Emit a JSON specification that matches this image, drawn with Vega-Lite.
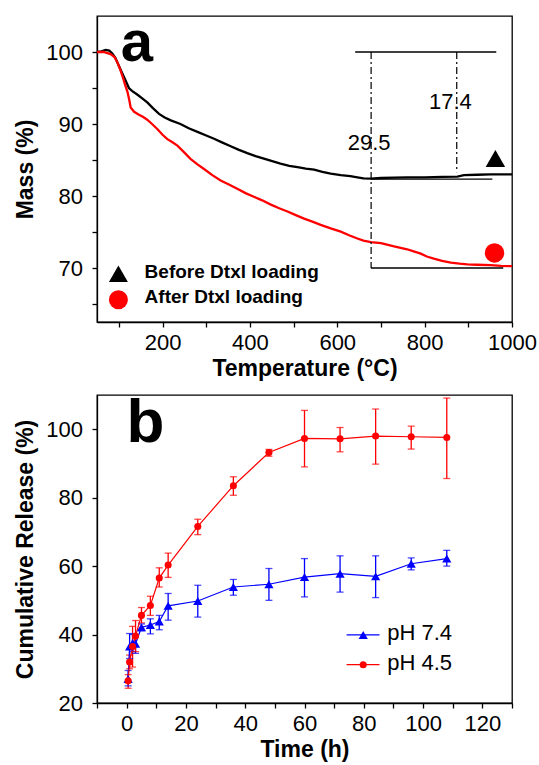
{
  "$schema": "https://vega.github.io/schema/vega-lite/v6.json",
  "background": "white",
  "padding": {"left": 14, "top": 13, "right": 5, "bottom": 3},
  "spacing": 9,
  "resolve": {"scale": {"color": "independent", "shape": "independent", "size": "independent"}},
  "config": {
    "font": "Liberation Sans",
    "view": {"stroke": "black", "strokeWidth": 1.3},
    "axis": {"domainColor": "black", "domainWidth": 1.3, "tickColor": "black", "tickWidth": 1.3, "tickSize": 5, "labelFont": "Liberation Sans", "labelFontSize": 22, "labelColor": "black", "titleFont": "Liberation Sans", "titleFontSize": 23, "titleFontWeight": "bold", "titleColor": "black", "grid": false, "labelFlush": false, "labelOverlap": false},
    "axisY": {"labelPadding": 9.5, "titlePadding": 8},
    "axisX": {"labelPadding": 5, "titlePadding": 4},
    "text": {"font": "Liberation Sans", "color": "black"}
  },
  "vconcat": [
    {
      "width": 415,
      "height": 306,
      "data": {"values": [
        {"sample": "Before Dtxl loading", "T": 50, "m": 100.0},
        {"sample": "Before Dtxl loading", "T": 60, "m": 100.1},
        {"sample": "Before Dtxl loading", "T": 70, "m": 100.3},
        {"sample": "Before Dtxl loading", "T": 78, "m": 100.2},
        {"sample": "Before Dtxl loading", "T": 85, "m": 99.8},
        {"sample": "Before Dtxl loading", "T": 92, "m": 99.2},
        {"sample": "Before Dtxl loading", "T": 100, "m": 98.1},
        {"sample": "Before Dtxl loading", "T": 106, "m": 97.3},
        {"sample": "Before Dtxl loading", "T": 112, "m": 96.5},
        {"sample": "Before Dtxl loading", "T": 118, "m": 95.7},
        {"sample": "Before Dtxl loading", "T": 123, "m": 95.0},
        {"sample": "Before Dtxl loading", "T": 130, "m": 94.6},
        {"sample": "Before Dtxl loading", "T": 142, "m": 94.1},
        {"sample": "Before Dtxl loading", "T": 155, "m": 93.5},
        {"sample": "Before Dtxl loading", "T": 165, "m": 93.0},
        {"sample": "Before Dtxl loading", "T": 178, "m": 92.2},
        {"sample": "Before Dtxl loading", "T": 192, "m": 91.4},
        {"sample": "Before Dtxl loading", "T": 205, "m": 90.9},
        {"sample": "Before Dtxl loading", "T": 219, "m": 90.5},
        {"sample": "Before Dtxl loading", "T": 241, "m": 90.0},
        {"sample": "Before Dtxl loading", "T": 260, "m": 89.4},
        {"sample": "Before Dtxl loading", "T": 280, "m": 88.9},
        {"sample": "Before Dtxl loading", "T": 300, "m": 88.4},
        {"sample": "Before Dtxl loading", "T": 318, "m": 87.95},
        {"sample": "Before Dtxl loading", "T": 336, "m": 87.45},
        {"sample": "Before Dtxl loading", "T": 356, "m": 86.9},
        {"sample": "Before Dtxl loading", "T": 375, "m": 86.4},
        {"sample": "Before Dtxl loading", "T": 394, "m": 85.95},
        {"sample": "Before Dtxl loading", "T": 413, "m": 85.55},
        {"sample": "Before Dtxl loading", "T": 432, "m": 85.2},
        {"sample": "Before Dtxl loading", "T": 451, "m": 84.85},
        {"sample": "Before Dtxl loading", "T": 470, "m": 84.5},
        {"sample": "Before Dtxl loading", "T": 490, "m": 84.2},
        {"sample": "Before Dtxl loading", "T": 509, "m": 84.0},
        {"sample": "Before Dtxl loading", "T": 528, "m": 83.8},
        {"sample": "Before Dtxl loading", "T": 547, "m": 83.65},
        {"sample": "Before Dtxl loading", "T": 566, "m": 83.35},
        {"sample": "Before Dtxl loading", "T": 585, "m": 83.1},
        {"sample": "Before Dtxl loading", "T": 608, "m": 82.9},
        {"sample": "Before Dtxl loading", "T": 630, "m": 82.75},
        {"sample": "Before Dtxl loading", "T": 646, "m": 82.6},
        {"sample": "Before Dtxl loading", "T": 660, "m": 82.45},
        {"sample": "Before Dtxl loading", "T": 677, "m": 82.4},
        {"sample": "Before Dtxl loading", "T": 700, "m": 82.5},
        {"sample": "Before Dtxl loading", "T": 730, "m": 82.55},
        {"sample": "Before Dtxl loading", "T": 760, "m": 82.6},
        {"sample": "Before Dtxl loading", "T": 800, "m": 82.6},
        {"sample": "Before Dtxl loading", "T": 840, "m": 82.65},
        {"sample": "Before Dtxl loading", "T": 875, "m": 82.7},
        {"sample": "Before Dtxl loading", "T": 890, "m": 82.9},
        {"sample": "Before Dtxl loading", "T": 920, "m": 82.95},
        {"sample": "Before Dtxl loading", "T": 951, "m": 83.0},
        {"sample": "Before Dtxl loading", "T": 1000, "m": 83.0},
        {"sample": "After Dtxl loading", "T": 50, "m": 100.0},
        {"sample": "After Dtxl loading", "T": 65, "m": 100.0},
        {"sample": "After Dtxl loading", "T": 81, "m": 99.7},
        {"sample": "After Dtxl loading", "T": 90, "m": 99.3},
        {"sample": "After Dtxl loading", "T": 97, "m": 98.5},
        {"sample": "After Dtxl loading", "T": 103, "m": 97.6},
        {"sample": "After Dtxl loading", "T": 108, "m": 96.7},
        {"sample": "After Dtxl loading", "T": 114, "m": 95.5},
        {"sample": "After Dtxl loading", "T": 120, "m": 94.4},
        {"sample": "After Dtxl loading", "T": 124, "m": 93.3},
        {"sample": "After Dtxl loading", "T": 127, "m": 92.3},
        {"sample": "After Dtxl loading", "T": 135, "m": 91.7},
        {"sample": "After Dtxl loading", "T": 146, "m": 91.3},
        {"sample": "After Dtxl loading", "T": 155, "m": 91.0},
        {"sample": "After Dtxl loading", "T": 165, "m": 90.6},
        {"sample": "After Dtxl loading", "T": 176, "m": 90.0},
        {"sample": "After Dtxl loading", "T": 188, "m": 89.3},
        {"sample": "After Dtxl loading", "T": 200, "m": 88.5},
        {"sample": "After Dtxl loading", "T": 211, "m": 87.9},
        {"sample": "After Dtxl loading", "T": 222, "m": 87.5},
        {"sample": "After Dtxl loading", "T": 234, "m": 87.0},
        {"sample": "After Dtxl loading", "T": 249, "m": 86.1},
        {"sample": "After Dtxl loading", "T": 264, "m": 85.15},
        {"sample": "After Dtxl loading", "T": 280, "m": 84.4},
        {"sample": "After Dtxl loading", "T": 295, "m": 83.75},
        {"sample": "After Dtxl loading", "T": 314, "m": 82.9},
        {"sample": "After Dtxl loading", "T": 333, "m": 82.15},
        {"sample": "After Dtxl loading", "T": 352, "m": 81.6},
        {"sample": "After Dtxl loading", "T": 371, "m": 81.0},
        {"sample": "After Dtxl loading", "T": 390, "m": 80.4},
        {"sample": "After Dtxl loading", "T": 409, "m": 79.9},
        {"sample": "After Dtxl loading", "T": 428, "m": 79.4},
        {"sample": "After Dtxl loading", "T": 448, "m": 78.8},
        {"sample": "After Dtxl loading", "T": 467, "m": 78.3},
        {"sample": "After Dtxl loading", "T": 486, "m": 77.85},
        {"sample": "After Dtxl loading", "T": 505, "m": 77.35},
        {"sample": "After Dtxl loading", "T": 524, "m": 76.85},
        {"sample": "After Dtxl loading", "T": 543, "m": 76.45},
        {"sample": "After Dtxl loading", "T": 562, "m": 76.0},
        {"sample": "After Dtxl loading", "T": 585, "m": 75.5},
        {"sample": "After Dtxl loading", "T": 608, "m": 75.05},
        {"sample": "After Dtxl loading", "T": 627, "m": 74.55},
        {"sample": "After Dtxl loading", "T": 646, "m": 74.1},
        {"sample": "After Dtxl loading", "T": 660, "m": 73.8},
        {"sample": "After Dtxl loading", "T": 677, "m": 73.6},
        {"sample": "After Dtxl loading", "T": 700, "m": 73.45},
        {"sample": "After Dtxl loading", "T": 730, "m": 73.0},
        {"sample": "After Dtxl loading", "T": 760, "m": 72.6},
        {"sample": "After Dtxl loading", "T": 775, "m": 72.3},
        {"sample": "After Dtxl loading", "T": 791, "m": 72.0},
        {"sample": "After Dtxl loading", "T": 805, "m": 71.6},
        {"sample": "After Dtxl loading", "T": 821, "m": 71.3},
        {"sample": "After Dtxl loading", "T": 840, "m": 71.0},
        {"sample": "After Dtxl loading", "T": 860, "m": 70.75},
        {"sample": "After Dtxl loading", "T": 880, "m": 70.6},
        {"sample": "After Dtxl loading", "T": 898, "m": 70.5},
        {"sample": "After Dtxl loading", "T": 920, "m": 70.45},
        {"sample": "After Dtxl loading", "T": 951, "m": 70.4},
        {"sample": "After Dtxl loading", "T": 975, "m": 70.3},
        {"sample": "After Dtxl loading", "T": 1000, "m": 70.25}
      ]},
      "layer": [
        {
          "mark": {"type": "line", "strokeWidth": 2.3},
          "encoding": {
            "x": {"field": "T", "type": "quantitative", "scale": {"domain": [50, 1000], "nice": false, "zero": false},
              "axis": {"title": "Temperature (°C)", "values": [100, 200, 300, 400, 500, 600, 700, 800, 900, 1000], "format": "d", "labelExpr": "datum.value % 200 === 0 ? datum.label : ''"}},
            "y": {"field": "m", "type": "quantitative", "scale": {"domain": [62.5, 105], "nice": false, "zero": false},
              "axis": {"title": "Mass (%)", "values": [65, 70, 75, 80, 85, 90, 95, 100], "format": "d", "labelExpr": "datum.value % 10 === 0 ? datum.label : ''"}},
            "color": {"field": "sample", "type": "nominal", "scale": {"domain": ["Before Dtxl loading", "After Dtxl loading"], "range": ["#000000", "#ff0000"]}, "legend": null}
          }
        },
        {
          "data": {"values": [
            {"sample": "Before Dtxl loading", "T": 962, "m": 85.2},
            {"sample": "After Dtxl loading", "T": 960, "m": 72.1}
          ]},
          "mark": {"type": "point", "filled": true, "opacity": 1, "size": 380},
          "encoding": {
            "x": {"field": "T", "type": "quantitative"},
            "y": {"field": "m", "type": "quantitative"},
            "color": {"field": "sample", "type": "nominal", "legend": null},
            "shape": {"field": "sample", "type": "nominal", "scale": {"domain": ["Before Dtxl loading", "After Dtxl loading"], "range": ["triangle-up", "circle"]}, "legend": null}
          }
        },
        {
          "data": {"values": [{"note": "Before Dtxl loading"}]},
          "mark": {"type": "point", "shape": "triangle-up", "filled": true, "opacity": 1, "size": 361, "color": "#000000"},
          "encoding": {"x": {"datum": 99, "type": "quantitative"}, "y": {"datum": 69.2, "type": "quantitative"}}
        },
        {
          "data": {"values": [{"note": "After Dtxl loading"}]},
          "mark": {"type": "point", "shape": "circle", "filled": true, "opacity": 1, "size": 361, "color": "#ff0000"},
          "encoding": {"x": {"datum": 99, "type": "quantitative"}, "y": {"datum": 65.6, "type": "quantitative"}}
        },
        {
          "data": {"values": [{"note": "Before Dtxl loading"}]},
          "mark": {"type": "text", "fontSize": 19, "fontWeight": "bold", "align": "left", "baseline": "middle"},
          "encoding": {"text": {"field": "note"}, "x": {"datum": 159, "type": "quantitative"}, "y": {"datum": 69.5, "type": "quantitative"}}
        },
        {
          "data": {"values": [{"note": "After Dtxl loading"}]},
          "mark": {"type": "text", "fontSize": 19, "fontWeight": "bold", "align": "left", "baseline": "middle"},
          "encoding": {"text": {"field": "note"}, "x": {"datum": 159, "type": "quantitative"}, "y": {"datum": 66.0, "type": "quantitative"}}
        },
        {
          "data": {"values": [{"note": "top"}]},
          "mark": {"type": "rule", "color": "black", "strokeWidth": 1.3},
          "encoding": {"x": {"datum": 641, "type": "quantitative"}, "x2": {"datum": 964}, "y": {"datum": 100, "type": "quantitative"}}
        },
        {
          "data": {"values": [{"note": "bottom"}]},
          "mark": {"type": "rule", "color": "black", "strokeWidth": 1.3},
          "encoding": {"x": {"datum": 677, "type": "quantitative"}, "x2": {"datum": 980}, "y": {"datum": 70, "type": "quantitative"}}
        },
        {
          "data": {"values": [{"note": "mid"}]},
          "mark": {"type": "rule", "color": "black", "strokeWidth": 1.2},
          "encoding": {"x": {"datum": 677, "type": "quantitative"}, "x2": {"datum": 955}, "y": {"datum": 82.35, "type": "quantitative"}}
        },
        {
          "data": {"values": [{"note": "v1"}]},
          "mark": {"type": "rule", "color": "black", "strokeWidth": 1.2, "strokeDash": [7, 3, 2, 3]},
          "encoding": {"x": {"datum": 677.5, "type": "quantitative"}, "y": {"datum": 100, "type": "quantitative"}, "y2": {"datum": 70}}
        },
        {
          "data": {"values": [{"note": "v2"}]},
          "mark": {"type": "rule", "color": "black", "strokeWidth": 1.2, "strokeDash": [7, 3, 2, 3]},
          "encoding": {"x": {"datum": 873.5, "type": "quantitative"}, "y": {"datum": 100, "type": "quantitative"}, "y2": {"datum": 83.3}}
        },
        {
          "data": {"values": [{"note": "29.5"}]},
          "mark": {"type": "text", "fontSize": 22, "align": "center", "baseline": "middle"},
          "encoding": {"text": {"field": "note"}, "x": {"datum": 673, "type": "quantitative"}, "y": {"datum": 87.4, "type": "quantitative"}}
        },
        {
          "data": {"values": [{"note": "17.4"}]},
          "mark": {"type": "text", "fontSize": 22, "align": "center", "baseline": "middle"},
          "encoding": {"text": {"field": "note"}, "x": {"datum": 859, "type": "quantitative"}, "y": {"datum": 93.0, "type": "quantitative"}}
        },
        {
          "data": {"values": [{"note": "a"}]},
          "mark": {"type": "text", "fontSize": 58, "fontWeight": "bold", "align": "center", "baseline": "alphabetic"},
          "encoding": {"text": {"field": "note"}, "x": {"datum": 141, "type": "quantitative"}, "y": {"datum": 98.8, "type": "quantitative"}}
        }
      ]
    },
    {
      "width": 415,
      "height": 308,
      "data": {"values": [
        {"series": "pH 7.4", "t": 0.5, "v": 27.0, "lo": 25.0, "hi": 29.5},
        {"series": "pH 7.4", "t": 1, "v": 36.5, "lo": 33.0, "hi": 40.3},
        {"series": "pH 7.4", "t": 2, "v": 37.5, "lo": 35.0, "hi": 40.0},
        {"series": "pH 7.4", "t": 3, "v": 37.3, "lo": 34.5, "hi": 39.8},
        {"series": "pH 7.4", "t": 5, "v": 42.1, "lo": 41.1, "hi": 43.1},
        {"series": "pH 7.4", "t": 8, "v": 42.8, "lo": 40.2, "hi": 44.6},
        {"series": "pH 7.4", "t": 11, "v": 43.8, "lo": 41.4, "hi": 45.6},
        {"series": "pH 7.4", "t": 14, "v": 48.4, "lo": 44.2, "hi": 52.0},
        {"series": "pH 7.4", "t": 24, "v": 49.8, "lo": 45.1, "hi": 54.4},
        {"series": "pH 7.4", "t": 36, "v": 53.9, "lo": 51.5, "hi": 56.1},
        {"series": "pH 7.4", "t": 48, "v": 54.7, "lo": 50.0, "hi": 59.3},
        {"series": "pH 7.4", "t": 60, "v": 56.8, "lo": 51.0, "hi": 62.2},
        {"series": "pH 7.4", "t": 72, "v": 57.8, "lo": 52.4, "hi": 63.0},
        {"series": "pH 7.4", "t": 84, "v": 57.0, "lo": 50.8, "hi": 63.0},
        {"series": "pH 7.4", "t": 96, "v": 60.7, "lo": 58.9, "hi": 62.4},
        {"series": "pH 7.4", "t": 108, "v": 62.2, "lo": 60.0, "hi": 64.6},
        {"series": "pH 4.5", "t": 0.5, "v": 26.5, "lo": 24.3, "hi": 28.3},
        {"series": "pH 4.5", "t": 1, "v": 32.0, "lo": 30.0, "hi": 34.0},
        {"series": "pH 4.5", "t": 2, "v": 36.5, "lo": 30.5, "hi": 42.4},
        {"series": "pH 4.5", "t": 3, "v": 39.6, "lo": 35.0, "hi": 44.1},
        {"series": "pH 4.5", "t": 5, "v": 45.6, "lo": 43.4, "hi": 47.9},
        {"series": "pH 4.5", "t": 8, "v": 48.5, "lo": 45.6, "hi": 51.2},
        {"series": "pH 4.5", "t": 11, "v": 56.5, "lo": 53.9, "hi": 59.5},
        {"series": "pH 4.5", "t": 14, "v": 60.3, "lo": 56.7, "hi": 63.8},
        {"series": "pH 4.5", "t": 24, "v": 71.6, "lo": 69.2, "hi": 73.7},
        {"series": "pH 4.5", "t": 36, "v": 83.5, "lo": 80.7, "hi": 86.1},
        {"series": "pH 4.5", "t": 48, "v": 93.2, "lo": 92.1, "hi": 94.1},
        {"series": "pH 4.5", "t": 60, "v": 97.3, "lo": 89.0, "hi": 105.5},
        {"series": "pH 4.5", "t": 72, "v": 97.2, "lo": 93.4, "hi": 100.5},
        {"series": "pH 4.5", "t": 84, "v": 98.0, "lo": 89.8, "hi": 105.9},
        {"series": "pH 4.5", "t": 96, "v": 97.8, "lo": 94.2, "hi": 100.9},
        {"series": "pH 4.5", "t": 108, "v": 97.6, "lo": 85.6, "hi": 109.1}
      ]},
      "encoding": {
        "x": {"field": "t", "type": "quantitative", "scale": {"domain": [-10, 130], "nice": false, "zero": false},
          "axis": {"title": "Time (h)", "values": [-10, 0, 10, 20, 30, 40, 50, 60, 70, 80, 90, 100, 110, 120, 130], "format": "d", "labelExpr": "datum.value % 20 === 0 && datum.value > -5 && datum.value < 125 ? datum.label : ''"}}
      },
      "layer": [
        {
          "mark": {"type": "rule", "strokeWidth": 1.3},
          "encoding": {
            "y": {"field": "lo", "type": "quantitative", "scale": {"domain": [20, 110], "nice": false, "zero": false},
              "axis": {"title": "Cumulative Release (%)", "values": [20, 30, 40, 50, 60, 70, 80, 90, 100, 110], "format": "d", "labelExpr": "datum.value % 20 === 0 && datum.value < 105 ? datum.label : ''"}},
            "y2": {"field": "hi"},
            "color": {"field": "series", "type": "nominal", "scale": {"domain": ["pH 7.4", "pH 4.5"], "range": ["#0000ff", "#ff0000"]}, "legend": null}
          }
        },
        {
          "mark": {"type": "tick", "orient": "horizontal", "size": 7, "thickness": 1.3},
          "encoding": {"y": {"field": "lo", "type": "quantitative"}, "color": {"field": "series", "type": "nominal", "legend": null}}
        },
        {
          "mark": {"type": "tick", "orient": "horizontal", "size": 7, "thickness": 1.3},
          "encoding": {"y": {"field": "hi", "type": "quantitative"}, "color": {"field": "series", "type": "nominal", "legend": null}}
        },
        {
          "mark": {"type": "line", "strokeWidth": 1.2},
          "encoding": {"y": {"field": "v", "type": "quantitative"}, "color": {"field": "series", "type": "nominal", "legend": null}}
        },
        {
          "mark": {"type": "point", "filled": true, "opacity": 1},
          "encoding": {
            "y": {"field": "v", "type": "quantitative"},
            "color": {"field": "series", "type": "nominal", "legend": null},
            "shape": {"field": "series", "type": "nominal", "scale": {"domain": ["pH 7.4", "pH 4.5"], "range": ["triangle-up", "circle"]}, "legend": null},
            "size": {"field": "series", "type": "nominal", "scale": {"domain": ["pH 7.4", "pH 4.5"], "range": [85, 50]}, "legend": null}
          }
        },
        {
          "data": {"values": [{"note": "pH 7.4 key", "t": 74.2}]},
          "mark": {"type": "rule", "color": "#0000ff", "strokeWidth": 1.3},
          "encoding": {"x2": {"datum": 85.3}, "y": {"datum": 39.9, "type": "quantitative"}}
        },
        {
          "data": {"values": [{"note": "pH 7.4 key", "t": 79.8}]},
          "mark": {"type": "point", "shape": "triangle-up", "filled": true, "opacity": 1, "size": 85, "color": "#0000ff"},
          "encoding": {"y": {"datum": 39.9, "type": "quantitative"}}
        },
        {
          "data": {"values": [{"note": "pH 7.4", "t": 87.9}]},
          "mark": {"type": "text", "fontSize": 22, "align": "left", "baseline": "middle"},
          "encoding": {"text": {"field": "note"}, "y": {"datum": 40.4, "type": "quantitative"}}
        },
        {
          "data": {"values": [{"note": "pH 4.5 key", "t": 74.2}]},
          "mark": {"type": "rule", "color": "#ff0000", "strokeWidth": 1.3},
          "encoding": {"x2": {"datum": 85.3}, "y": {"datum": 31.2, "type": "quantitative"}}
        },
        {
          "data": {"values": [{"note": "pH 4.5 key", "t": 79.8}]},
          "mark": {"type": "point", "shape": "circle", "filled": true, "opacity": 1, "size": 50, "color": "#ff0000"},
          "encoding": {"y": {"datum": 31.2, "type": "quantitative"}}
        },
        {
          "data": {"values": [{"note": "pH 4.5", "t": 87.9}]},
          "mark": {"type": "text", "fontSize": 22, "align": "left", "baseline": "middle"},
          "encoding": {"text": {"field": "note"}, "y": {"datum": 31.7, "type": "quantitative"}}
        },
        {
          "data": {"values": [{"note": "b", "t": 6.3}]},
          "mark": {"type": "text", "fontSize": 62, "fontWeight": "bold", "align": "center", "baseline": "alphabetic"},
          "encoding": {"text": {"field": "note"}, "y": {"datum": 96.4, "type": "quantitative"}}
        }
      ]
    }
  ]
}
